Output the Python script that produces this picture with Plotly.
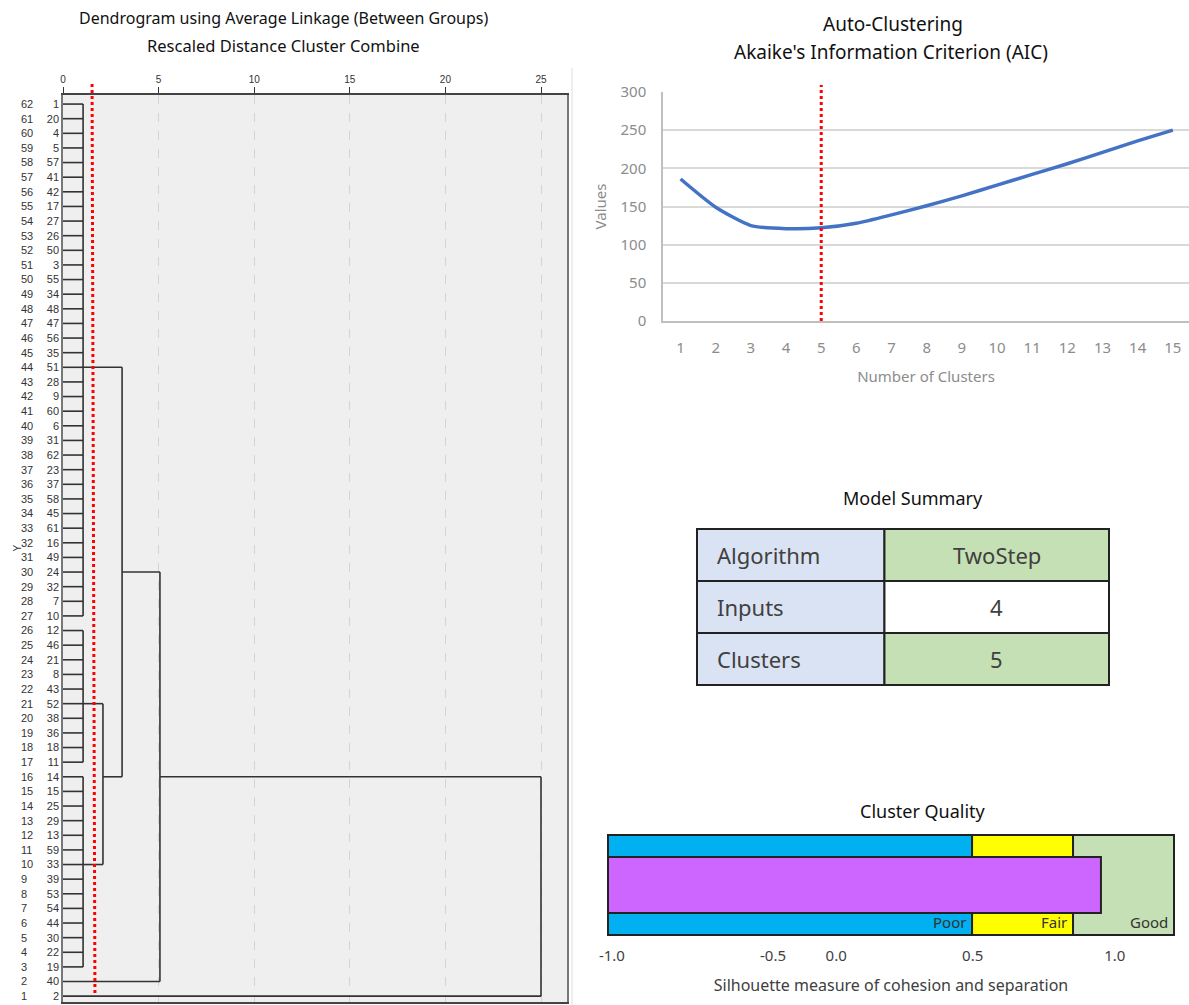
import plotly.graph_objects as go

W, H = 1189, 1005

def fx(px):
    return px / W

def fy(py):
    return 1 - py / H

# ---------------- Dendrogram data ----------------
leaf_ids = [1, 20, 4, 5, 57, 41, 42, 17, 27, 26, 50, 3, 55, 34, 48, 47, 56, 35, 51, 28,
            9, 60, 6, 31, 62, 23, 37, 58, 45, 61, 16, 49, 24, 32, 7, 10, 12, 46, 21, 8,
            43, 52, 38, 36, 18, 11, 14, 15, 25, 29, 13, 59, 33, 39, 53, 54, 44, 30, 22, 19,
            40, 2]
row_numbers = list(range(len(leaf_ids), 0, -1))  # 62 .. 1, top to bottom

# first-level groups (rows, inclusive) and their joining distance
group_top_rows = [62, 26, 16]
group_bottom_rows = [27, 17, 3]
group_dist = [1.05, 1.05, 1.05]

# higher merges: child a (row, start distance), child b (row, start distance), merge distance
merge_row_a = [21, 44, 30, 16]
merge_from_a = [1.05, 1.05, 3.09, 5.07]
merge_row_b = [10, 16, 2, 1]
merge_from_b = [1.05, 2.09, 0.0, 0.0]
merge_dist = [2.09, 3.09, 5.07, 25.0]

cut_distance_top = 1.52
cut_distance_bottom = 1.67
dendro_ticks = [0, 5, 10, 15, 20, 25]

# ---------------- AIC data ----------------
n_clusters = list(range(1, 16))
aic_values = [186, 149, 125, 121, 122, 128, 139, 151, 164, 178, 192, 206, 221, 236, 250]
chosen_k = 5

# ---------------- Model summary ----------------
summary_labels = ["Algorithm", "Inputs", "Clusters"]
summary_values = ["TwoStep", "4", "5"]
summary_col_widths = [187, 224]
summary_label_fill = ["#dae3f3", "#dae3f3", "#dae3f3"]
summary_value_fill = ["#c5e0b4", "#ffffff", "#c5e0b4"]

# ---------------- Cluster quality ----------------
band_labels = ["Poor", "Fair", "Good"]
band_start = [-1.0, 0.5, 0.916]
band_end = [0.5, 0.916, 1.332]
band_colors = ["#00b0f0", "#ffff00", "#c5e0b4"]
silhouette_value = 1.031
quality_tick_vals = [-0.984, -0.320, -0.060, 0.5025, 1.088]
quality_tick_text = ["-1.0", "-0.5", "0.0", "0.5", "1.0"]

FONT = "Noto Sans"
fig = go.Figure()

# dendrogram segments
sx, sy = [], []
for top, bot, d in zip(group_top_rows, group_bottom_rows, group_dist):
    for r in range(bot, top + 1):
        sx += [0, d, None]
        sy += [r, r, None]
    sx += [d, d, None]
    sy += [bot, top, None]
for ra, xa, rb, xb, m in zip(merge_row_a, merge_from_a, merge_row_b, merge_from_b, merge_dist):
    sx += [xa, m, None, xb, m, None, m, m, None]
    sy += [ra, ra, None, rb, rb, None, ra, rb, None]

fig.add_trace(go.Scatter(x=sx, y=sy, mode="lines", line=dict(color="#333333", width=1.6),
                         xaxis="x", yaxis="y", hoverinfo="skip", showlegend=False))
fig.add_trace(go.Scatter(x=[0] * len(row_numbers), y=row_numbers, mode="markers",
                         marker=dict(opacity=0), xaxis="x", yaxis="y4",
                         hoverinfo="skip", showlegend=False))

# AIC line
fig.add_trace(go.Scatter(x=n_clusters, y=aic_values, mode="lines",
                         line=dict(color="#4472c4", width=3.5, shape="spline", smoothing=0.6),
                         xaxis="x2", yaxis="y2", hoverinfo="skip", showlegend=False))

# Cluster quality bars
for lab, s, e, c in zip(band_labels, band_start, band_end, band_colors):
    fig.add_trace(go.Bar(x=[e - s], base=[s], y=[0], orientation="h", width=1.0,
                         marker=dict(color=c, line=dict(color="#222222", width=2)),
                         xaxis="x3", yaxis="y3", hoverinfo="skip", showlegend=False))
fig.add_trace(go.Bar(x=[silhouette_value - band_start[0]], base=[band_start[0]], y=[0],
                     orientation="h", width=0.56,
                     marker=dict(color="#cc66ff", line=dict(color="#222222", width=2)),
                     xaxis="x3", yaxis="y3", hoverinfo="skip", showlegend=False))

# Model summary table, drawn as cells on its own axes
n_rows = len(summary_labels)
row_pos = list(range(n_rows - 1, -1, -1))
fig.add_trace(go.Bar(x=[summary_col_widths[0]] * n_rows, base=[0] * n_rows, y=row_pos,
                     orientation="h", width=1.0,
                     marker=dict(color=summary_label_fill, line=dict(color="#222222", width=2)),
                     xaxis="x5", yaxis="y5", hoverinfo="skip", showlegend=False))
fig.add_trace(go.Bar(x=[summary_col_widths[1]] * n_rows, base=[summary_col_widths[0]] * n_rows,
                     y=row_pos, orientation="h", width=1.0,
                     marker=dict(color=summary_value_fill, line=dict(color="#222222", width=2)),
                     xaxis="x5", yaxis="y5", hoverinfo="skip", showlegend=False))

shapes = [
    # dendrogram background
    dict(type="rect", xref="x domain", yref="y domain", x0=0, x1=1, y0=0, y1=1,
         fillcolor="#efefef", line=dict(width=0), layer="below"),
    # cut line in dendrogram
    dict(type="line", xref="x", yref="paper", x0=cut_distance_bottom, x1=cut_distance_top,
         y0=fy(993), y1=fy(83), line=dict(color="#ff0000", width=3, dash="dot")),
    # chosen k line
    dict(type="line", xref="x2", yref="paper", x0=chosen_k, x1=chosen_k,
         y0=fy(321), y1=fy(85), line=dict(color="#ff0000", width=3, dash="dot")),
    # panel separator
    dict(type="line", xref="paper", yref="paper", x0=fx(572), x1=fx(572), y0=0, y1=fy(68),
         line=dict(color="#dddddd", width=1)),
]

annotations = []
titles = [
    ("Dendrogram using Average Linkage (Between Groups)", 283, 18, 16),
    ("Rescaled Distance Cluster Combine", 283, 45, 16.5),
    ("Auto-Clustering", 893, 24, 19),
    ("Akaike's Information Criterion (AIC)", 891, 52, 19),
    ("Model Summary", 913, 498, 18),
    ("Cluster Quality", 923, 811, 18),
]
for t, x, y, s in titles:
    annotations.append(dict(text=t, x=fx(x), y=fy(y), xref="paper", yref="paper",
                            showarrow=False, xanchor="center", yanchor="middle",
                            font=dict(family=FONT, size=s, color="#111111")))
annotations.append(dict(text="Y", x=fx(9), y=fy(548), xref="paper", yref="paper",
                        showarrow=False, textangle=-90,
                        font=dict(family="Liberation Sans", size=10, color="#333333")))
for lab, e in zip(band_labels, band_end):
    annotations.append(dict(text=lab, x=e, y=-0.5, xref="x3", yref="y3", showarrow=False,
                            xanchor="right", yanchor="bottom", xshift=-4, yshift=1,
                            font=dict(family=FONT, size=15, color="#333333")))
for lab, val, r in zip(summary_labels, summary_values, row_pos):
    annotations.append(dict(text=lab, x=0, y=r, xref="x5", yref="y5", showarrow=False,
                            xanchor="left", yanchor="middle", xshift=18,
                            font=dict(family=FONT, size=22, color="#404040")))
    annotations.append(dict(text=val, x=summary_col_widths[0] + summary_col_widths[1] / 2, y=r,
                            xref="x5", yref="y5", showarrow=False,
                            xanchor="center", yanchor="middle",
                            font=dict(family=FONT, size=22, color="#404040")))

hidden = dict(showticklabels=False, ticks="", showline=False, showgrid=False,
              zeroline=False, automargin=False)

fig.update_layout(
    width=W, height=H, margin=dict(l=0, r=0, t=0, b=0, autoexpand=False),
    paper_bgcolor="white", plot_bgcolor="white",
    barmode="overlay", showlegend=False,
    shapes=shapes, annotations=annotations,
    xaxis=dict(domain=[fx(63), fx(567)], range=[0, 26.36], side="top", anchor="y",
               tickvals=dendro_ticks, ticks="outside", ticklen=6, automargin=False,
               tickcolor="#333333", showline=True, linecolor="#444444", linewidth=1.5,
               mirror=True, showgrid=True, gridcolor="#d4d4d4", griddash="dash",
               zeroline=False, tickfont=dict(family="Liberation Sans", size=10, color="#333333")),
    yaxis=dict(domain=[fy(1002), fy(95)], range=[0.6, 62.62], anchor="x", automargin=False,
               tickvals=row_numbers, ticktext=[str(v) for v in leaf_ids], ticks="",
               showline=True, linecolor="#777777", linewidth=1.5, mirror=True,
               showgrid=False, zeroline=False,
               tickfont=dict(family="Liberation Sans", size=11, color="#333333")),
    yaxis4=dict(overlaying="y", side="right", anchor="free", position=fx(20), automargin=False,
                range=[0.6, 62.62], tickvals=row_numbers, ticktext=[str(v) for v in row_numbers],
                ticks="", showline=False, showgrid=False, zeroline=False,
                tickfont=dict(family="Liberation Sans", size=11, color="#333333")),
    xaxis2=dict(domain=[fx(663), 1.0], range=[0.5, 15.46], anchor="y2", automargin=False,
                tickvals=n_clusters, ticks="outside", ticklen=12, tickcolor="rgba(0,0,0,0)",
                showline=True, linecolor="#bfbfbf", linewidth=1.5, showgrid=False, zeroline=False,
                tickfont=dict(family=FONT, size=15, color="#8c8c8c"),
                title=dict(text="Number of Clusters", standoff=16,
                           font=dict(family=FONT, size=15, color="#8c8c8c"))),
    yaxis2=dict(domain=[fy(321), fy(92)], range=[0, 300], anchor="x2", dtick=50, automargin=False,
                ticks="outside", ticklen=12, tickcolor="rgba(0,0,0,0)",
                showline=True, linecolor="#bfbfbf", linewidth=1.5, showgrid=True,
                gridcolor="#d9d9d9", gridwidth=1.5, zeroline=False,
                tickfont=dict(family=FONT, size=15, color="#8c8c8c"),
                title=dict(text="Values", standoff=10,
                           font=dict(family=FONT, size=15, color="#8c8c8c"))),
    xaxis3=dict(domain=[fx(604), fx(1178)], range=[-1.0165, 1.3485], anchor="y3",
                tickvals=quality_tick_vals, ticktext=quality_tick_text, automargin=False,
                ticks="outside", ticklen=5, tickcolor="rgba(0,0,0,0)",
                showline=False, showgrid=False, zeroline=False,
                tickfont=dict(family=FONT, size=15, color="#404040"),
                title=dict(text="Silhouette measure of cohesion and separation", standoff=15,
                           font=dict(family=FONT, size=16, color="#404040"))),
    yaxis3=dict(domain=[fy(937), fy(833)], range=[-0.52, 0.52], anchor="x3", **hidden),
    xaxis5=dict(domain=[fx(696), fx(1110)], range=[-1, sum(summary_col_widths) + 1],
                anchor="y5", **hidden),
    yaxis5=dict(domain=[fy(686), fy(528)], range=[-0.52, n_rows - 0.48], anchor="x5", **hidden),
)

fig.write_html("out.html", config={"displayModeBar": False},
               post_script="document.body.style.margin='0';document.body.style.overflow='hidden';")
